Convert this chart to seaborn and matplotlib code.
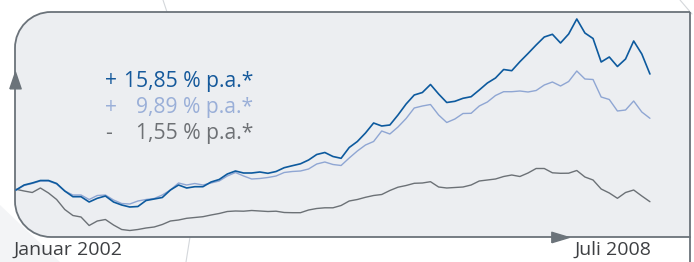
import numpy as np
import pandas as pd
import matplotlib
matplotlib.use("Agg")
import matplotlib.pyplot as plt
import seaborn as sns
from matplotlib.path import Path
from matplotlib.patches import PathPatch, Polygon
from matplotlib.lines import Line2D

# monthly index levels, Jan 2002 .. Jul 2008 (arbitrary units)
months = pd.date_range("2002-01-01", "2008-07-01", freq="MS")

fund = [47, 52, 54, 56.5, 56.5, 53.5, 46, 40.3, 40.3, 35, 38.7, 41, 35, 32, 30, 30.5,
        36.5, 38, 39.5, 47, 52, 49, 50.3, 50.3, 55, 57.5, 63, 66, 64, 64, 65, 63.7,
        65.5, 69.3, 71.3, 73.2, 77, 82.5, 84.5, 80.5, 78.7, 89.5, 95.5, 104, 114, 111,
        112, 122, 133, 142, 144.5, 152.5, 143, 134.5, 135.7, 138.7, 140.3, 147, 154, 159,
        167.5, 166.3, 175.3, 183.5, 192, 200, 202.7, 194, 203, 218, 204, 198.5, 175, 180,
        170.5, 178, 196, 183, 163]

benchmark = [47, 51.5, 53.5, 56, 56, 53, 46, 42, 42, 37.5, 41.5, 42, 37, 33.5, 33, 36,
             37.5, 38.5, 42, 47, 54, 52, 53.5, 52, 54, 56, 61, 64.5, 61, 58, 58.5, 59.5,
             61, 64.5, 65.5, 66, 68, 73, 75, 72.5, 71.5, 79, 86, 92, 95.5, 106, 103, 110,
             118.5, 129, 131, 132.5, 122, 114.5, 118, 123.5, 123.7, 131, 135, 141.5, 145.3,
             145.3, 146, 145, 146.5, 152, 155, 151, 155.5, 166, 158, 157.5, 140, 137.5, 126,
             127, 136, 125, 118.7]

index_world = [47.7, 46, 44.5, 49, 44, 37.5, 27.5, 21.5, 20, 11.5, 16, 17.5, 12, 7.5, 6.5,
               7.5, 9, 10, 12.5, 16, 17, 18.7, 19.5, 20.3, 22, 23.5, 25.5, 26, 25.8, 26.5,
               26, 25.5, 25.8, 24.5, 24.3, 24.3, 27, 28.5, 29.2, 29.2, 31.5, 36, 37.5, 39.7,
               41.5, 42.5, 46.5, 49.8, 51.5, 53.7, 54, 55.3, 50, 49, 49.5, 50, 52, 56, 57, 58,
               60.5, 62, 60.5, 64, 68.5, 68.5, 64.2, 63.7, 63.8, 66.5, 60, 57, 48, 44, 38.7,
               44.5, 47, 41, 35.3]

series_names = ["Fonds", "Vergleichsindex", "MSCI Welt"]
labels_sign = ["+", "+", "-"]
labels_value = ["15,85 % p.a.*", "9,89 % p.a.*", "1,55 % p.a.*"]
start_label = "Januar 2002"
end_label = "Juli 2008"

colors = {"Fonds": "#0d5a9e", "Vergleichsindex": "#8fa6d3", "MSCI Welt": "#6c7176"}
text_colors = ["#15599b", "#9aafd8", "#6e7175"]
border = "#6b737a"
panel_fill = "#eceef1"

df = pd.DataFrame({"month": np.tile(np.arange(len(months)), 3),
                   "value": fund + benchmark + index_world,
                   "series": np.repeat(series_names, len(months))})

sns.set_theme(style="white")
plt.rcParams["font.family"] = ["Open Sans", "DejaVu Sans"]

W, H = 694, 262
fig = plt.figure(figsize=(W / 100, H / 100), dpi=100)
fig.patch.set_facecolor("white")

# faint background decoration
for (x0, y0, x1, y1) in [(163, 0, 167, 12), (680, 0, 692, 14), (190, 237, 186, 262),
                         (0, 228, 40, 262)]:
    fig.add_artist(Line2D([x0 / W, x1 / W], [1 - y0 / H, 1 - y1 / H], color="#d4d7db",
                          lw=0.8, zorder=0))
fig.add_artist(Polygon([(0, 0), (0, 1 - 205 / H), (60 / W, 0)], closed=True,
                       facecolor="#f3f4f6", edgecolor="none", zorder=0))

left, right, top, bottom = 15, 690, 12, 237
ax = fig.add_axes([left / W, 1 - bottom / H, (right - left) / W, (bottom - top) / H])
ax.set_facecolor("none")
for s in ax.spines.values():
    s.set_visible(False)

# panel with rounded left corners
rx, ry = 36 / (right - left), 36 / (bottom - top)
k = 0.5523
verts = [(1, 1), (rx, 1), (rx - k * rx, 1), (0, 1 - ry + k * ry), (0, 1 - ry),
         (0, ry), (0, ry - k * ry), (rx - k * rx, 0), (rx, 0), (1, 0), (1, 1)]
codes = [Path.MOVETO, Path.LINETO, Path.CURVE4, Path.CURVE4, Path.CURVE4,
         Path.LINETO, Path.CURVE4, Path.CURVE4, Path.CURVE4, Path.LINETO, Path.LINETO]
ax.add_patch(PathPatch(Path(verts, codes), transform=ax.transAxes, facecolor=panel_fill,
                       edgecolor=border, lw=1.3, zorder=0, clip_on=False))
fig.add_artist(Line2D([right / W, right / W], [1 - bottom / H, 0], color=border, lw=1.3))

sns.lineplot(data=df, x="month", y="value", hue="series",
             hue_order=["MSCI Welt", "Vergleichsindex", "Fonds"],
             palette=colors, ax=ax, legend=False, linewidth=1.1)
for ln, lw in zip(ax.get_lines(), [1.0, 1.0, 1.2]):
    ln.set_linewidth(lw)

ax.set_xlim(-0.123, 82.93)
ax.set_ylim(0, 225)
ax.set_xticks([])
ax.set_yticks([])
ax.set_xlabel("")
ax.set_ylabel("")

# axis arrows
up = [(-0.34, -0.5), (0.34, -0.5), (0, 0.5), (-0.34, -0.5)]
rt = [(-0.5, -0.3), (0.5, 0), (-0.5, 0.3), (-0.5, -0.3)]
ax.plot([0], [1 - 68 / 225], marker=up, markersize=12, color=border, transform=ax.transAxes,
        clip_on=False, linestyle="none")
ax.plot([(560 - left) / (right - left)], [0], marker=rt, markersize=12.5, color=border,
        transform=ax.transAxes, clip_on=False, linestyle="none")

# performance labels
for i, (sg, val, c) in enumerate(zip(labels_sign, labels_value, text_colors)):
    y = 1 - (81 + 26 * i) / H
    fig.text(105 / W, y, sg, color=c, fontsize=15.2, ha="left", va="center")
    fig.text(253 / W, y, val, color=c, fontsize=15.2, ha="right", va="center")

fig.text(14 / W, 1 - 250 / H, start_label, color="#3d3f42", fontsize=14, ha="left", va="center")
fig.text(651 / W, 1 - 250 / H, end_label, color="#3d3f42", fontsize=14, ha="right", va="center")

fig.savefig("out.png", dpi=100, facecolor="white")
